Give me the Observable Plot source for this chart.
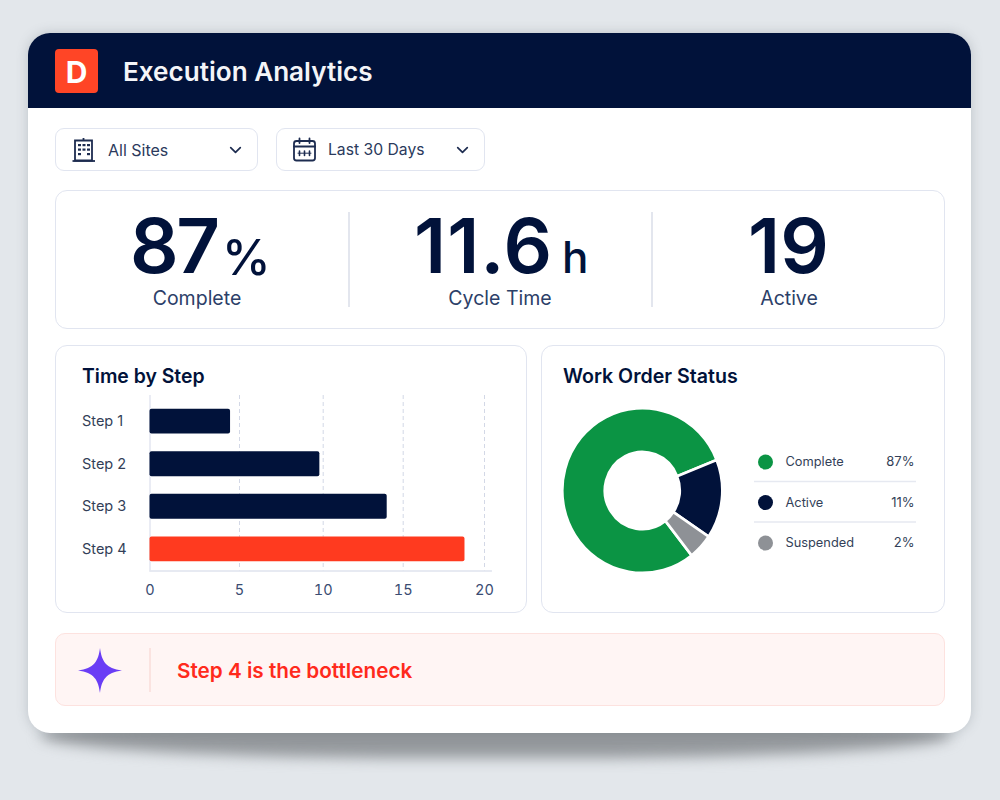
<!DOCTYPE html>
<html lang="en">
<head>
<meta charset="utf-8">
<title>Execution Analytics</title>
<script src="https://cdn.jsdelivr.net/npm/d3@7"></script>
<script src="https://cdn.jsdelivr.net/npm/@observablehq/plot@0.6"></script>
<style>
  html, body { margin: 0; padding: 0; background: #e3e7eb; }
  #page { position: relative; width: 1000px; height: 800px; overflow: hidden; font-family: Inter, sans-serif; background: #e3e7eb; }
  #page div, #page span { box-sizing: border-box; }
  .abs { position: absolute; }
  .t { position: absolute; white-space: nowrap; line-height: 1; }
  .box { position: absolute; background: #fff; border: 1.5px solid #e1e5f0; }
</style>
</head>
<body>
<div id="page"></div>
<script>
// ---- data ----
const appTitle = "Execution Analytics";
const filterLabels = ["All Sites", "Last 30 Days"];
const kpiValues = ["87", "11.6", "19"];
const kpiUnits = ["%", "h", ""];
const kpiLabels = ["Complete", "Cycle Time", "Active"];
const stepNames = ["Step 1", "Step 2", "Step 3", "Step 4"];
const stepHours = [4.5, 9.8, 14, 18.8];
const axisTicks = [0, 5, 10, 15, 20];
const statusNames = ["Complete", "Active", "Suspended"];
const statusLabels = ["87%", "11%", "2%"];
const sliceShares = [79.5, 15.5, 5];
const insight = "Step 4 is the bottleneck";

// ---- page furniture ----
const NAVY = "#01123a", RED = "#ff3a1f", GREEN = "#0b9444", GREY = "#8e9196";
const page = document.getElementById("page");
function el(cls, css, text) {
  const d = document.createElement("div");
  d.className = cls; d.style.cssText = css;
  if (text !== undefined) d.textContent = text;
  page.appendChild(d); return d;
}
function icon(css, inner, vb) {
  const s = document.createElementNS("http://www.w3.org/2000/svg", "svg");
  s.setAttribute("viewBox", vb); s.style.cssText = "position:absolute;" + css;
  s.innerHTML = inner; page.appendChild(s); return s;
}
// shadow + card
el("abs", "left:40px;top:712px;width:912px;height:46px;border-radius:50%/60%;background:#94989c;filter:blur(7px);");
el("abs", "left:28px;top:33px;width:943px;height:700px;background:#fff;border-radius:22px;box-shadow:0 0 12px rgba(90,100,110,.28);");
el("abs", `left:28px;top:33px;width:943px;height:75px;background:${NAVY};border-radius:22px 22px 0 0;`);
el("abs", "left:55px;top:49px;width:43px;height:44px;background:#ff4526;border-radius:4px;");
el("t", "left:55px;top:57px;width:43px;text-align:center;color:#fff;font-size:30px;font-weight:700;", "D");
el("t", "left:123px;top:59px;color:#f4f5f8;font-size:26.1px;font-weight:600;", appTitle);

// filters
const filterBoxes = [[55, 203], [276, 209]];
const filterTextLeft = [108, 328], filterTextSize = [16, 15.7];
filterLabels.forEach((f, i) => {
  const [x, w] = filterBoxes[i];
  el("box", `left:${x}px;top:128px;width:${w}px;height:43px;border-radius:9px;`);
  el("t", `left:${filterTextLeft[i]}px;top:142px;color:#2b3a5c;font-size:${filterTextSize[i]}px;`, f);
  icon(`left:${x + w - 29}px;top:146px;width:13px;height:8px;`,
    `<path d="M2 2 L8 8 L14 2" fill="none" stroke="#1d2c50" stroke-width="2.1" stroke-linecap="round" stroke-linejoin="round"/>`, "0 0 16 10");
});
icon("left:71px;top:137px;width:26px;height:26px;",
  `<g fill="none" stroke="#1d2c50" stroke-width="1.8"><path d="M4 3.5 H21 V23.5 H4 Z"/><path d="M1.5 24 H24"/><path d="M12.5 1 V3.5"/></g>
   <g fill="#1d2c50"><rect x="7" y="7" width="3" height="2.2"/><rect x="11.5" y="7" width="3" height="2.2"/><rect x="16" y="7" width="3" height="2.2"/>
   <rect x="7" y="11.5" width="3" height="2.2"/><rect x="11.5" y="11.5" width="3" height="2.2"/><rect x="16" y="11.5" width="3" height="2.2"/>
   <rect x="7" y="16" width="3" height="2.2"/><rect x="16" y="16" width="3" height="2.2"/></g>`, "0 0 26 26");
icon("left:292px;top:137px;width:25px;height:25px;",
  `<g fill="none" stroke="#1d2c50" stroke-width="1.8" stroke-linecap="round"><rect x="2" y="4" width="21" height="19.5" rx="2.5"/><path d="M2 9.5 H23"/><path d="M7.5 1.5 V6 M17.5 1.5 V6"/>
   <path d="M7.5 14 V18.5 M12.5 14 V18.5 M17.5 14 V18.5" stroke-width="1.6"/><path d="M6 16.2 H19" stroke-width="1"/></g>`, "0 0 25 25");

// KPI row
el("box", "left:55px;top:190px;width:890px;height:139px;border-radius:12px;");
[348, 651].forEach(x => el("abs", `left:${x}px;top:212px;width:1.5px;height:95px;background:#e3e6ee;`));
const kpiValueLeft = [130, 414, 748], kpiSpacing = [-2.5, 1, 0], kpiUnitLeft = [222, 562, 0], kpiLabelCentre = [197, 500, 789];
kpiValues.forEach((v, i) => {
  el("t", `left:${kpiValueLeft[i]}px;top:207px;color:${NAVY};font-size:76px;font-weight:600;letter-spacing:${kpiSpacing[i]}px;`, v);
  if (kpiUnits[i]) el("t", `left:${kpiUnitLeft[i]}px;top:${i ? 235 : 233}px;color:${NAVY};font-size:${i ? 44 : 49}px;font-weight:500;`, kpiUnits[i]);
  el("t", `left:${kpiLabelCentre[i] - 100}px;width:200px;text-align:center;top:289px;color:#2c4068;font-size:19.5px;`, kpiLabels[i]);
});

// chart cards
el("box", "left:55px;top:345px;width:472px;height:268px;border-radius:12px;");
el("box", "left:541px;top:345px;width:404px;height:268px;border-radius:12px;");
el("t", `left:82px;top:367px;color:${NAVY};font-size:19.4px;font-weight:600;`, "Time by Step");
el("t", `left:563px;top:367px;color:${NAVY};font-size:19.6px;font-weight:600;`, "Work Order Status");

// alert
el("box", "left:55px;top:633px;width:890px;height:73px;border-radius:10px;background:#fff5f4;border-color:#fde2df;");
el("abs", "left:149px;top:648px;width:1.5px;height:44px;background:#fbe3e0;");
icon("left:78px;top:648px;width:44px;height:45px;",
  `<path d="M22 0 C23.6 13 28 20.5 44 22.5 C28 24.5 23.6 32 22 45 C20.4 32 16 24.5 0 22.5 C16 20.5 20.4 13 22 0 Z" fill="#6a3df5"/>`, "0 0 44 45");
el("t", "left:177px;top:661px;color:#ff2a1c;font-size:20.7px;font-weight:600;", insight);

// ---- bar chart ----
const bars = stepNames.map((step, i) => ({step, hours: stepHours[i]}));
const barPlot = Plot.plot({
  width: 470, height: 266,
  marginLeft: 93.5, marginRight: 35.3, marginTop: 49, marginBottom: 41.5,
  style: {background: "transparent", fontFamily: "Inter, sans-serif", position: "absolute", left: "56px", top: "346px"},
  // axis spacing in the picture is slightly uneven, so the scale is piecewise
  x: {type: "linear", domain: axisTicks, range: [93.5, 183, 266.7, 346.7, 428]},
  y: {domain: stepNames, range: [53.8, 224.2], paddingInner: 0.415, paddingOuter: 0.2075, round: false, label: null},
  color: {domain: stepNames, range: [NAVY, NAVY, NAVY, RED]},
  marks: [
    Plot.ruleX(axisTicks.slice(1), {stroke: "#d3d8e6", strokeWidth: 1, strokeDasharray: "4,3"}),
    Plot.ruleX([0], {stroke: "#e3e6f0", strokeWidth: 1.5}),
    Plot.frame({anchor: "bottom", stroke: "#dfe3ee", strokeWidth: 1.5}),
    Plot.barX(bars, {x: "hours", y: "step", fill: "step", rx: 2}),
    Plot.axisY({tickSize: 0, tickPadding: 68, textAnchor: "start", fontSize: 14.5, fill: "#333f58", label: null}),
    Plot.axisX({ticks: axisTicks, tickSize: 0, tickPadding: 14, fontSize: 14.5, fill: "#3a4c72", label: null})
  ]
});
page.appendChild(barPlot);

// ---- donut + legend ----
const statuses = statusNames.map((name, i) => ({name, label: statusLabels[i], share: sliceShares[i]}));
const donutCx = 100.3, donutCy = 144.5, donutOuter = 80, donutInner = 37.5, donutStretch = 1.03;
const donutPlot = Plot.plot({
  width: 402, height: 266,
  marginLeft: 212, marginRight: 28, marginTop: 0, marginBottom: 0,
  style: {background: "transparent", fontFamily: "Inter, sans-serif", position: "absolute", left: "542px", top: "346px"},
  y: {domain: statusNames, range: [115.5, 196.5], padding: 0, round: false, axis: null},
  color: {domain: statusNames, range: [GREEN, NAVY, GREY]},
  marks: [
    (index, scales) => {
      const pie = d3.pie().value(d => d.share).sort(null)
        .startAngle(-218 * Math.PI / 180).endAngle(142 * Math.PI / 180);
      const arc = d3.arc().innerRadius(donutInner).outerRadius(donutOuter);
      const g = d3.create("svg:g").attr("transform", `translate(${donutCx},${donutCy}) scale(1,${donutStretch})`);
      g.selectAll("path").data(pie(statuses)).join("path")
        .attr("d", arc).attr("fill", d => scales.color(d.data.name))
        .attr("stroke", "#fff").attr("stroke-width", 2.6);
      return g.node();
    },
    Plot.ruleY(statusNames.slice(0, 2), {y: d => d, dy: 19.5, stroke: "#e6e9f1", strokeWidth: 1.5}),
    Plot.dot(statuses, {frameAnchor: "left", dx: 11, y: "name", fill: "name", r: 7.5}),
    Plot.text(statuses, {frameAnchor: "left", dx: 31, y: "name", text: "name", textAnchor: "start", fill: "#333f58", fontSize: 12.8}),
    Plot.text(statuses, {frameAnchor: "right", dx: -2, y: "name", text: "label", textAnchor: "end", fill: "#333f58", fontSize: 13})
  ]
});
page.appendChild(donutPlot);
</script>
</body>
</html>
